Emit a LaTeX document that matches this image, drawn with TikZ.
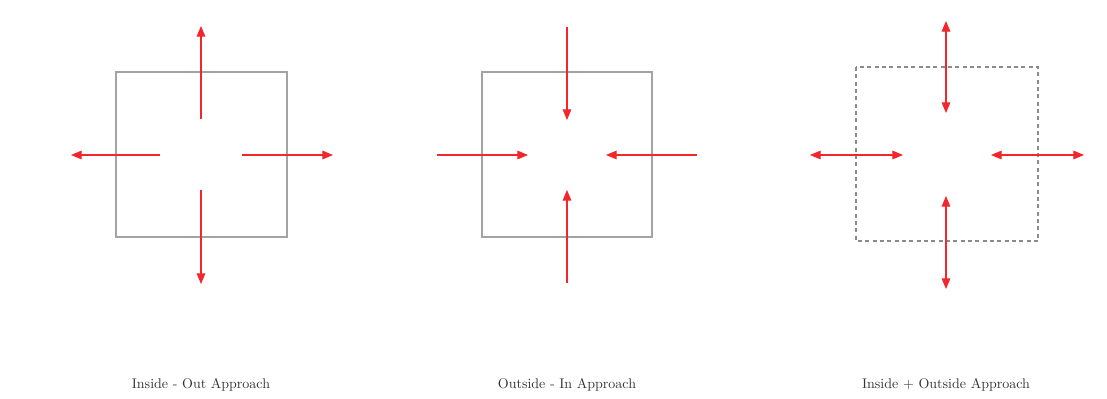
\documentclass[tikz,border=0pt]{standalone}
\usetikzlibrary{arrows.meta}
\definecolor{arrred}{HTML}{F2262B}
\definecolor{boxgray}{HTML}{A3A3A3}
\tikzset{
  px/.style={x=0.75pt,y=-0.75pt},
  box/.style={draw=boxgray,line width=0.8pt},
  dbox/.style={draw=boxgray!85!black,line width=0.8pt,dash pattern=on 3pt off 2.5pt},
  arr/.style={draw=arrred,fill=arrred,line width=0.8pt,-{Triangle[length=8pt,width=6.5pt]}},
  darr/.style={draw=arrred,fill=arrred,line width=0.8pt,{Triangle[length=8pt,width=6.5pt]}-{Triangle[length=8pt,width=6.5pt]}},
  captext/.style={font=\fontsize{10.5}{12}\selectfont,text=black!80}
}
\begin{document}
\begin{tikzpicture}[px]
\useasboundingbox[fill=white] (0,0) rectangle (1107,399);
% Panel 1
\draw[box] (116,72) rectangle (287,237);
\coordinate (a1s) at (201,119); \coordinate (a1e) at (201,26);
\coordinate (a2s) at (160,155); \coordinate (a2e) at (71,155);
\coordinate (a3s) at (242,155); \coordinate (a3e) at (333,155);
\coordinate (a4s) at (201,190); \coordinate (a4e) at (201,284);
\draw[arr] (a1s) -- (a1e);
\draw[arr] (a2s) -- (a2e);
\draw[arr] (a3s) -- (a3e);
\draw[arr] (a4s) -- (a4e);
\node[captext] (l1) at (201,385) {Inside - Out Approach};
% Panel 2
\draw[box] (482,72) rectangle (652,237);
\coordinate (b1s) at (567,27); \coordinate (b1e) at (567,120);
\coordinate (b2s) at (437,155); \coordinate (b2e) at (528,155);
\coordinate (b3s) at (697,155); \coordinate (b3e) at (606,155);
\coordinate (b4s) at (567,283); \coordinate (b4e) at (567,190);
\draw[arr] (b1s) -- (b1e);
\draw[arr] (b2s) -- (b2e);
\draw[arr] (b3s) -- (b3e);
\draw[arr] (b4s) -- (b4e);
\node[captext] (l2) at (567,385) {Outside - In Approach};
% Panel 3
\draw[dbox] (856,67) rectangle (1038,241);
\coordinate (c1s) at (946,21); \coordinate (c1e) at (946,113);
\coordinate (c2s) at (810,155); \coordinate (c2e) at (903,155);
\coordinate (c3s) at (991,155); \coordinate (c3e) at (1084,155);
\coordinate (c4s) at (946,196); \coordinate (c4e) at (946,289);
\draw[darr] (c1s) -- (c1e);
\draw[darr] (c2s) -- (c2e);
\draw[darr] (c3s) -- (c3e);
\draw[darr] (c4s) -- (c4e);
\node[captext] (l3) at (946,385) {Inside + Outside Approach};
\end{tikzpicture}
\end{document}
